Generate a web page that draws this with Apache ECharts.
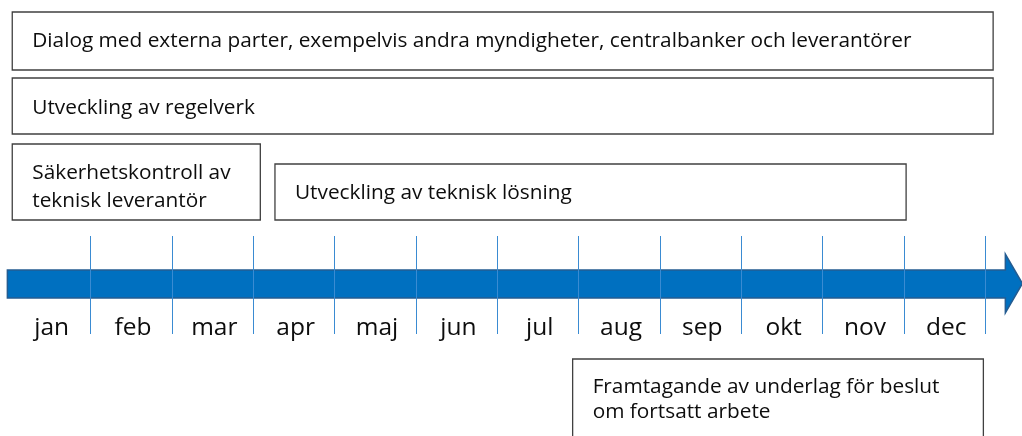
<!DOCTYPE html>
<html>
<head>
<meta charset="utf-8">
<script src="https://cdn.jsdelivr.net/npm/echarts@6/dist/echarts.min.js"></script>
<style>
html,body{margin:0;padding:0;background:#fff;}
#chart{width:1022px;height:436px;}
</style>
</head>
<body>
<div id="chart"></div>
<script>
// ---- data ----
const months = ['jan','feb','mar','apr','maj','jun','jul','aug','sep','okt','nov','dec'];
const activities = [
  'Dialog med externa parter, exempelvis andra myndigheter, centralbanker och leverantörer',
  'Utveckling av regelverk',
  'Säkerhetskontroll av\nteknisk leverantör',
  'Utveckling av teknisk lösning',
  'Framtagande av underlag för beslut\nom fortsatt arbete'
];
const startMonth = [0.04, 0.04, 0.04, 3.27, 6.93];
const endMonth   = [12.10, 12.10, 3.09, 11.03, 11.98];
const arrowStart = -0.02;
const arrowHeadBase = 12.25;
const arrowTip = 12.46;

// ---- layout (pixels on the vertical layout axis) ----
const lanes = [
  {top: 12, bottom: 70, textY: 41, lh: 28},
  {top: 78, bottom: 134, textY: 108, lh: 28},
  {top: 144, bottom: 220, textY: 187, lh: 28.5},
  {top: 164, bottom: 220, textY: 193, lh: 28},
  {top: 359, bottom: 446, textY: 400, lh: 25}
];
const arrowBody = [270, 298];
const arrowHead = [254, 313];
const tickSpan = [236, 334];
const monthLabelY = 328.5;

const FONT = '"Open Sans", "Noto Sans", sans-serif';

const boxData = activities.map((t, i) => [startMonth[i], endMonth[i], i]);
const boundaryData = months.map((m, i) => [i + 1]);
const labelData = months.map((m, i) => [i + 0.5, i]);

const chart = echarts.init(document.getElementById('chart'));
chart.setOption({
  animation: false,
  grid: {left: 9, right: 37, top: 0, bottom: 0},
  xAxis: {type: 'value', min: 0, max: 12, show: false},
  yAxis: {type: 'value', min: 0, max: 436, inverse: true, show: false},
  series: [
    {
      type: 'custom', clip: false, z: 2,
      data: boxData,
      renderItem: function (params, api) {
        const i = api.value(2);
        const L = lanes[i];
        const p0 = api.coord([api.value(0), L.top]);
        const p1 = api.coord([api.value(1), L.bottom]);
        const tp = api.coord([api.value(0), L.textY]);
        return {
          type: 'group',
          children: [
            {type: 'rect', shape: {x: p0[0], y: p0[1], width: p1[0] - p0[0], height: p1[1] - p0[1]},
             style: {fill: '#fff', stroke: '#404040', lineWidth: 1.3}},
            {type: 'text', style: {text: activities[i], x: tp[0] + 20, y: tp[1],
              font: '20.8px ' + FONT, fill: '#0d0d0d', verticalAlign: 'middle', align: 'left', lineHeight: L.lh}}
          ]
        };
      }
    },
    {
      type: 'custom', clip: false, z: 3,
      data: [[arrowStart, arrowHeadBase, arrowTip]],
      renderItem: function (params, api) {
        const x0 = api.coord([api.value(0), 0])[0];
        const xb = api.coord([api.value(1), 0])[0];
        const xt = api.coord([api.value(2), 0])[0];
        const yt = api.coord([0, arrowBody[0]])[1];
        const yb = api.coord([0, arrowBody[1]])[1];
        const ht = api.coord([0, arrowHead[0]])[1];
        const hb = api.coord([0, arrowHead[1]])[1];
        const ym = (ht + hb) / 2;
        return {
          type: 'polygon',
          shape: {points: [[x0, yt], [xb, yt], [xb, ht], [xt, ym], [xb, hb], [xb, yb], [x0, yb]]},
          style: {fill: '#0070C0', stroke: '#245C91', lineWidth: 1.5}
        };
      }
    },
    {
      type: 'custom', clip: false, z: 4,
      data: boundaryData,
      renderItem: function (params, api) {
        const a = api.coord([api.value(0), tickSpan[0]]);
        const b = api.coord([api.value(0), tickSpan[1]]);
        return {type: 'line', shape: {x1: Math.round(a[0]) + 0.5, y1: a[1], x2: Math.round(b[0]) + 0.5, y2: b[1]},
          style: {stroke: '#3A8BD2', lineWidth: 1}};
      }
    },
    {
      type: 'custom', clip: false, z: 5,
      data: labelData,
      renderItem: function (params, api) {
        const p = api.coord([api.value(0), monthLabelY]);
        return {type: 'text', style: {text: months[api.value(1)], x: p[0] + 2, y: p[1],
          font: '24.5px ' + FONT, fill: '#0d0d0d', align: 'center', verticalAlign: 'middle'}};
      }
    }
  ]
});
</script>
</body>
</html>
